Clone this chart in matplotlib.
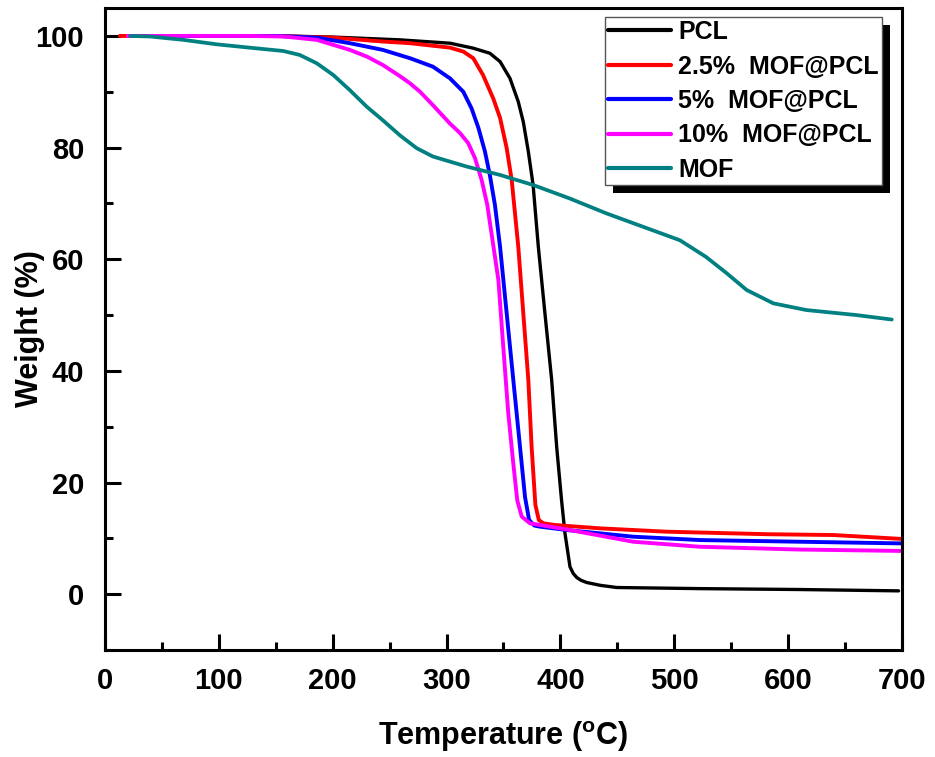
import matplotlib
matplotlib.use("Agg")
import matplotlib.pyplot as plt
from matplotlib.patches import Rectangle
from matplotlib.ticker import MultipleLocator
from matplotlib.transforms import IdentityTransform

plt.rcParams['font.family'] = ['Liberation Sans', 'DejaVu Sans']
plt.rcParams['font.weight'] = 'bold'

# TGA curves: temperature (°C) and residual weight (%)
pcl_t = [25, 50, 100, 150, 200, 259, 303, 323.5, 338, 347, 355.7, 363, 367.4, 371.8,
         376, 380.6, 386.4, 392.3, 396.7, 401, 404, 408.4, 411.3, 414.3, 418, 423, 434.7,
         449.4, 522.6, 610, 697]
pcl_w = [100, 100, 100, 100, 99.8, 99.3, 98.7, 97.8, 96.9, 95.4, 92.4, 88.2, 84.6, 79.3,
         73.3, 62.2, 50.3, 38.4, 26.4, 16.8, 10.9, 4.9, 3.7, 3.0, 2.5, 2.1, 1.6,
         1.2, 1.0, 0.84, 0.6]

mof25_t = [13, 30, 50, 100, 150, 200, 244, 268, 303, 314.7, 323.5, 332, 341, 347, 352.8,
           357.2, 363, 367.4, 371.8, 374.7, 378, 381, 385, 395, 434.7, 493, 581, 640, 700]
mof25_w = [100, 100, 100, 100, 100, 99.7, 99.0, 98.7, 97.9, 97.2, 96.0, 93.0, 88.8, 85.3, 79.9,
           74.2, 62.2, 50.3, 38.4, 26.4, 16.0, 13.3, 12.7, 12.4, 11.8, 11.2, 10.75, 10.6, 9.9]

mof5_t = [25, 50, 100, 150, 186, 215, 244, 268, 288, 303, 314.7, 322, 328, 333.7, 338,
          342.5, 347, 352.8, 358.6, 364.5, 368.9, 372.5, 377, 382, 405.5, 464, 522.6, 610, 700]
mof5_w = [100, 100, 100, 100, 99.7, 98.7, 97.5, 96.0, 94.5, 92.4, 90.0, 87.0, 83.5, 79.3, 75.1,
          69.7, 62.2, 50.3, 38.4, 26.4, 17.4, 13.3, 12.3, 12.1, 11.5, 10.3, 9.7, 9.4, 9.1]

mof10_t = [20, 50, 100, 127, 157, 186, 215, 230, 244, 259, 268, 276.7, 288, 303, 311.8,
           319, 325, 330.8, 335.8, 345.5, 349.8, 354.2, 358.6, 362.1, 366, 373.3, 405.5,
           464, 522.6, 610, 700]
mof10_w = [100, 100, 100, 100, 99.9, 99.3, 97.5, 96.3, 94.8, 92.8, 91.5, 90.0, 87.6, 84.3, 82.6,
           80.8, 78.1, 74.2, 69.7, 56.3, 44.3, 32.4, 23.4, 16.8, 13.9, 12.7, 11.6,
           9.4, 8.5, 8.0, 7.75]

mof_t = [22, 39.5, 68.8, 98, 127, 156.6, 171, 186, 200.5, 215, 230, 244, 259, 273.7, 288,
         317.7, 347, 376, 408, 440.6, 505, 528, 546, 563.5, 587, 616, 660, 691]
mof_w = [100, 99.9, 99.3, 98.5, 97.9, 97.3, 96.6, 95.1, 93.0, 90.3, 87.3, 84.9, 82.2, 79.9, 78.4,
         76.6, 75.1, 73.3, 70.9, 68.2, 63.4, 60.4, 57.5, 54.5, 52.1, 50.9, 50.0, 49.2]

series = [
    ("PCL", pcl_t, pcl_w, "#000000", 2.4),
    ("2.5%  MOF@PCL", mof25_t, mof25_w, "#ff0000", 2.8),
    ("5%  MOF@PCL", mof5_t, mof5_w, "#0000ff", 2.8),
    ("10%  MOF@PCL", mof10_t, mof10_w, "#ff00ff", 2.8),
    ("MOF", mof_t, mof_w, "#008080", 2.7),
]

fig = plt.figure(figsize=(9.35, 7.57), dpi=100)
ax = fig.add_axes([0.1123, 0.1413, 0.8524, 0.8481])

for label, t, w, c, lw in series:
    ax.plot(t, w, color=c, lw=lw, label=label, solid_capstyle='round',
            solid_joinstyle='round')

ax.set_xlim(0, 700)
ax.set_ylim(-10, 105)
ax.xaxis.set_major_locator(MultipleLocator(100))
ax.xaxis.set_minor_locator(MultipleLocator(50))
ax.yaxis.set_major_locator(MultipleLocator(20))
ax.yaxis.set_minor_locator(MultipleLocator(10))

for s in ax.spines.values():
    s.set_linewidth(2.2)

ax.tick_params(which='both', direction='in', top=False, right=False, width=2.2)
ax.tick_params(which='major', length=11.5, labelsize=21)
ax.tick_params(axis='x', which='major', pad=12)
ax.tick_params(axis='y', which='major', pad=15)
ax.tick_params(which='minor', length=6)
for lab in ax.get_xticklabels() + ax.get_yticklabels():
    lab.set_fontweight('bold')

ax.set_xlabel(r'Temperature ($\mathregular{^{o}}$C)', fontsize=22, fontweight='bold', va='center')
ax.set_ylabel('Weight (%)', fontsize=22, fontweight='bold', va='center')
ax.xaxis.set_label_coords(0.5, -0.1355)
ax.yaxis.set_label_coords(-0.094, 0.5)

leg = ax.legend(loc='upper right', bbox_to_anchor=(882 / 935, 1 - 17 / 757),
                bbox_transform=fig.transFigure, borderaxespad=0, borderpad=0.12,
                handlelength=2.5, handletextpad=0.3, labelspacing=0.42,
                prop={'size': 18, 'weight': 'bold'}, fancybox=False,
                edgecolor='#555555', framealpha=1)
leg.get_frame().set_linewidth(1.0)
for ln in leg.get_lines():
    ln.set_linewidth(3)

# solid drop shadow behind the legend box
fig.canvas.draw()
bb = leg.get_window_extent()
shadow = Rectangle((bb.x0 + 8, bb.y0 - 8), bb.width, bb.height,
                   transform=IdentityTransform(), facecolor='black',
                   edgecolor='none', zorder=leg.get_zorder() - 0.1)
ax.add_artist(shadow)

fig.savefig("out.png", dpi=100)
